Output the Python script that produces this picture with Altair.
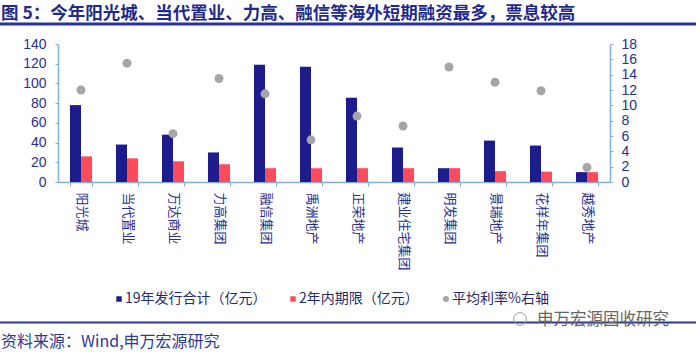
import altair as alt
import pandas as pd

companies = ["阳光城", "当代置业", "万达商业", "力高集团", "融信集团", "禹洲地产",
             "正荣地产", "建业住宅集团", "明发集团", "景瑞地产", "花样年集团", "越秀地产"]
issue_total = [78, 38, 48, 30, 119, 117, 85.5, 35, 14, 42, 37, 10]
short_term = [26, 24, 21, 18, 14, 14, 14, 14, 14, 11, 10.5, 10]
avg_rate = [12, 15.5, 6.3, 13.5, 11.5, 5.5, 8.6, 7.3, 15, 13, 11.9, 1.9]

series_names = ["19年发行合计（亿元）", "2年内期限（亿元）"]
rate_name = "平均利率%右轴"
left_ticks = [0, 20, 40, 60, 80, 100, 120, 140]
right_ticks = [0, 2, 4, 6, 8, 10, 12, 14, 16, 18]

title_text = "图 5：今年阳光城、当代置业、力高、融信等海外短期融资最多，票息较高"
source_text = "资料来源：Wind,申万宏源研究"
watermark_text = "申万宏源固收研究"

NAVY = "#1c1c8c"
RED = "#ff4b5a"
GRAY = "#a6a6a6"
AXIS = "#7fb0dc"
LABEL = "#2a2f8f"
CJK = "Noto Sans CJK SC"
NUM = "Liberation Sans"

W, H = 552, 138
PL, PT = 58, 44

bar_df = pd.DataFrame({
    "company": companies * 2,
    "series": [series_names[0]] * len(companies) + [series_names[1]] * len(companies),
    "value": issue_total + short_term,
})
rate_df = pd.DataFrame({"company": companies, "rate": avg_rate})
one = pd.DataFrame({"a": [0]})

xaxis = alt.Axis(title=None, labelAngle=90, labelFont=CJK, labelFontSize=13,
                 labelColor=LABEL, domainColor=AXIS, tickColor=AXIS, tickSize=4,
                 tickBand="extent", labelPadding=6, domainWidth=1.5)

bars = alt.Chart(bar_df).mark_bar().encode(
    x=alt.X("company:N", sort=companies,
            scale=alt.Scale(paddingInner=0.52, paddingOuter=0.26), axis=xaxis),
    xOffset=alt.XOffset("series:N", sort=series_names),
    y=alt.Y("value:Q", scale=alt.Scale(domain=[0, 140], nice=False),
            axis=alt.Axis(title=None, values=left_ticks, labelFont=NUM, labelFontSize=14,
                          labelColor=LABEL, domainColor=AXIS, tickColor=AXIS, tickSize=3,
                          labelPadding=9, grid=False, domainWidth=1.5)),
    color=alt.Color("series:N", scale=alt.Scale(domain=series_names, range=[NAVY, RED]),
                    legend=None),
)

points = alt.Chart(rate_df).mark_circle(size=80, color=GRAY, opacity=1).encode(
    x=alt.X("company:N", sort=companies, axis=xaxis),
    y=alt.Y("rate:Q", scale=alt.Scale(domain=[0, 18], nice=False),
            axis=alt.Axis(title=None, orient="right", values=right_ticks, labelFont=NUM,
                          labelFontSize=14, labelColor=LABEL, domainColor=AXIS,
                          tickColor=AXIS, tickSize=3, labelPadding=8, grid=False,
                          domainWidth=1.5)),
)

main = alt.layer(bars, points).resolve_scale(y="independent", color="independent")


def text(t, x, y, size, color, weight="normal", font=CJK, align="left"):
    return alt.Chart(one).mark_text(align=align, baseline="middle", font=font,
                                    fontSize=size, fontWeight=weight, color=color).encode(
        x=alt.value(x), y=alt.value(y), text=alt.value(t))


def rule(y, color, width):
    return alt.Chart(one).mark_rule(color=color, strokeWidth=width).encode(
        x=alt.value(-PL), x2=alt.value(696 - PL), y=alt.value(y))


ly = 299 - PT
deco = [
    text(title_text, 1 - PL, 13.5 - PT, 17.5, "#1f2a8c", weight="bold"),
    rule(24 - PT, "#26348f", 3),
    rule(322.5 - PT, "#2e3a96", 2),
    text(source_text, 1 - PL, 342 - PT, 16, "#2e3a96"),
    alt.Chart(one).mark_point(size=160, color="#999999", strokeWidth=1, opacity=1).encode(
        x=alt.value(520 - PL), y=alt.value(319 - PT)),
    text(watermark_text, 537 - PL, 320 - PT, 16.5, "#666666"),
    alt.Chart(one).mark_square(size=30, color=NAVY, opacity=1).encode(
        x=alt.value(119 - PL), y=alt.value(ly)),
    text(series_names[0], 125 - PL, ly, 14, "#262a6b"),
    alt.Chart(one).mark_square(size=30, color=RED, opacity=1).encode(
        x=alt.value(293 - PL), y=alt.value(ly)),
    text(series_names[1], 299 - PL, ly, 14, "#262a6b"),
    alt.Chart(one).mark_circle(size=36, color=GRAY, opacity=1).encode(
        x=alt.value(446 - PL), y=alt.value(ly)),
    text(rate_name, 452 - PL, ly, 14, "#262a6b"),
]

chart = alt.layer(main, *deco).properties(
    width=W, height=H,
    autosize=alt.AutoSizeParams(type="none"),
    padding={"left": PL, "top": PT, "right": 696 - PL - W, "bottom": 352 - PT - H},
    background="white",
).configure_view(stroke=None)

chart.save("out.html", embed_options={"renderer": "svg", "actions": False})
